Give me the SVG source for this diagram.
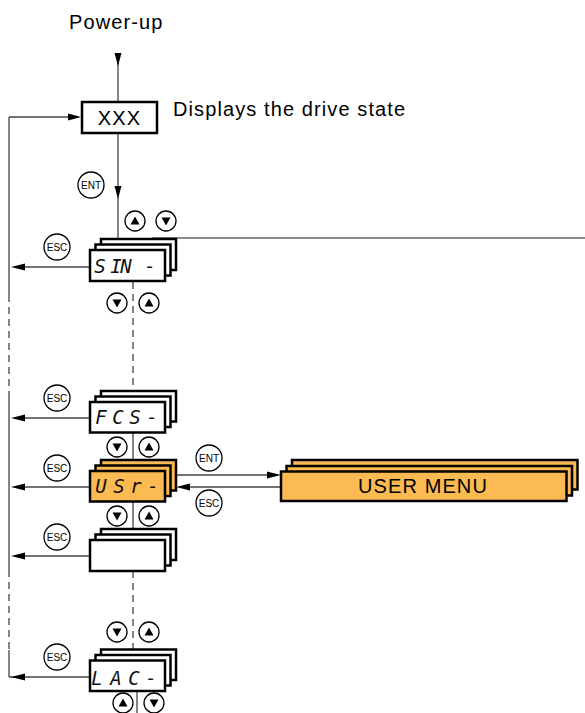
<svg xmlns="http://www.w3.org/2000/svg" xmlns:xlink="http://www.w3.org/1999/xlink" width="585" height="713" viewBox="0 0 585 713">
<style>
.lbl{font-family:"Liberation Sans",Arial,sans-serif;font-size:20px;letter-spacing:1.1px;fill:#000}
.box{fill:#fff;stroke:#000;stroke-width:2.5}
.org{fill:#FBBA52;stroke:#000;stroke-width:2.5}
.seg{font-family:"DejaVu Sans Mono",monospace;font-style:italic;font-size:19px;fill:#111;text-anchor:middle}
.ln{stroke:#444;stroke-width:1.3;fill:none}
.dash{stroke:#444;stroke-width:1.3;fill:none;stroke-dasharray:7 5}
.gray{stroke:#666;stroke-width:1.6;fill:none}
.btn{fill:#fff;stroke:#000;stroke-width:1.3}
.btxt{font-family:"Liberation Sans",Arial,sans-serif;font-size:10px;text-anchor:middle;fill:#000}
.ah{fill:#000}
</style>
<defs>
<g id="up"><circle class="btn" r="10"/><polygon class="ah" points="-4.5,3.5 4.5,3.5 0,-4.5"/></g>
<g id="dn"><circle class="btn" r="10"/><polygon class="ah" points="-4.5,-3.5 4.5,-3.5 0,4.5"/></g>
<g id="ent"><circle class="btn" r="13" stroke-width="1"/><text class="btxt" y="3.5">ENT</text></g>
<g id="esc"><circle class="btn" r="13" stroke-width="1"/><text class="btxt" y="3.5">ESC</text></g>
</defs>

<g id="connectors">
  <line class="ln" x1="118" y1="53" x2="118" y2="102"/>
  <polygon class="ah" points="114.5,53 121.5,53 118,66"/>
  <line class="ln" x1="118" y1="133" x2="118" y2="239"/>
  <polygon class="ah" points="114.5,186 121.5,186 118,199"/>
  <line class="gray" x1="152" y1="238" x2="585" y2="238"/>
  <line class="ln" x1="9" y1="117" x2="9" y2="295"/>
  <line class="dash" x1="9" y1="295" x2="9" y2="395"/>
  <line class="ln" x1="9" y1="395" x2="9" y2="570"/>
  <line class="dash" x1="9" y1="570" x2="9" y2="650"/>
  <line class="ln" x1="9" y1="650" x2="9" y2="677"/>
  <line class="ln" x1="9" y1="117" x2="70" y2="117"/>
  <polygon class="ah" points="68,113.5 68,120.5 81,117"/>
  <line class="ln" x1="24" y1="267" x2="90" y2="267"/>
  <polygon class="ah" points="25,263.5 25,270.5 11,267"/>
  <line class="ln" x1="24" y1="418" x2="90" y2="418"/>
  <polygon class="ah" points="25,414.5 25,421.5 11,418"/>
  <line class="ln" x1="24" y1="487" x2="90" y2="487"/>
  <polygon class="ah" points="25,483.5 25,490.5 11,487"/>
  <line class="ln" x1="24" y1="556" x2="90" y2="556"/>
  <polygon class="ah" points="25,552.5 25,559.5 11,556"/>
  <line class="ln" x1="9" y1="677" x2="90" y2="677"/>
  <polygon class="ah" points="25,673.5 25,680.5 11,677"/>
  <line class="dash" x1="133" y1="282" x2="133" y2="391"/>
  <line class="ln" x1="133" y1="432" x2="133" y2="460"/>
  <line class="ln" x1="133" y1="502" x2="133" y2="529"/>
  <line class="dash" x1="133" y1="571" x2="133" y2="649"/>
  <line class="ln" x1="137" y1="691" x2="137" y2="713"/>
  <line class="ln" x1="176" y1="475" x2="268" y2="475"/>
  <polygon class="ah" points="267,471.5 267,478.5 281,475"/>
  <line class="ln" x1="190" y1="487" x2="281" y2="487"/>
  <polygon class="ah" points="190,483.5 190,490.5 176,487"/>
</g>

<g id="buttons">
  <use xlink:href="#ent" x="91" y="185"/>
  <use xlink:href="#up" x="135" y="221"/>
  <use xlink:href="#dn" x="166" y="221"/>
  <use xlink:href="#esc" x="57" y="247"/>
  <use xlink:href="#dn" x="117" y="303"/>
  <use xlink:href="#up" x="149" y="303"/>
  <use xlink:href="#esc" x="57" y="398"/>
  <use xlink:href="#dn" x="117" y="447"/>
  <use xlink:href="#up" x="149" y="447"/>
  <use xlink:href="#esc" x="57" y="468"/>
  <use xlink:href="#ent" x="209" y="458"/>
  <use xlink:href="#esc" x="209" y="503"/>
  <use xlink:href="#dn" x="117" y="516"/>
  <use xlink:href="#up" x="149" y="516"/>
  <use xlink:href="#esc" x="57" y="537"/>
  <use xlink:href="#dn" x="117" y="632"/>
  <use xlink:href="#up" x="149" y="632"/>
  <use xlink:href="#esc" x="57" y="657"/>
  <use xlink:href="#up" x="123" y="703"/>
  <use xlink:href="#dn" x="154" y="703"/>
</g>

<g id="powerup"><text class="lbl" x="69" y="29">Power-up</text></g>

<g id="xxx">
  <rect class="box" x="82" y="102" width="75" height="31"/>
  <text class="lbl" x="119.5" y="124.5" text-anchor="middle" letter-spacing="0">XXX</text>
</g>
<g id="state"><text class="lbl" x="173" y="116">Displays the drive state</text></g>

<g id="sin">
  <rect class="box" x="101" y="239" width="75" height="31"/>
  <rect class="box" x="95.5" y="244.5" width="75" height="31"/>
  <rect class="box" x="90" y="250" width="75" height="31"/>
  <text class="seg" x="100 116 126 150" y="273">SIN-</text>
</g>

<g id="fcs">
  <rect class="box" x="101" y="391" width="75" height="30.5"/>
  <rect class="box" x="95.5" y="396.5" width="75" height="30.5"/>
  <rect class="box" x="90" y="402" width="75" height="30.5"/>
  <text class="seg" x="101 118 135 152" y="423.5">FCS-</text>
</g>

<g id="usr">
  <rect class="org" x="101" y="460" width="75" height="30.5"/>
  <rect class="org" x="95.5" y="465.5" width="75" height="30.5"/>
  <rect class="org" x="90" y="471" width="75" height="30.5"/>
  <text class="seg" x="101 119 136 153" y="493">USr-</text>
</g>

<g id="blank">
  <rect class="box" x="101" y="529" width="75" height="31"/>
  <rect class="box" x="95.5" y="534.5" width="75" height="31"/>
  <rect class="box" x="90" y="540" width="75" height="31"/>
</g>

<g id="lac">
  <rect class="box" x="101" y="649.5" width="75" height="30.5"/>
  <rect class="box" x="95.5" y="655" width="75" height="30.5"/>
  <rect class="box" x="90" y="660.5" width="75" height="30.5"/>
  <text class="seg" x="97 116 134 151" y="684.5">LAC-</text>
</g>

<g id="usermenu">
  <rect class="org" x="292" y="460" width="285.5" height="29.5"/>
  <rect class="org" x="286.5" y="466" width="285.5" height="29.5"/>
  <rect class="org" x="281" y="471.5" width="285.5" height="29.5"/>
  <text class="lbl" x="423" y="493" text-anchor="middle">USER MENU</text>
</g>
</svg>
